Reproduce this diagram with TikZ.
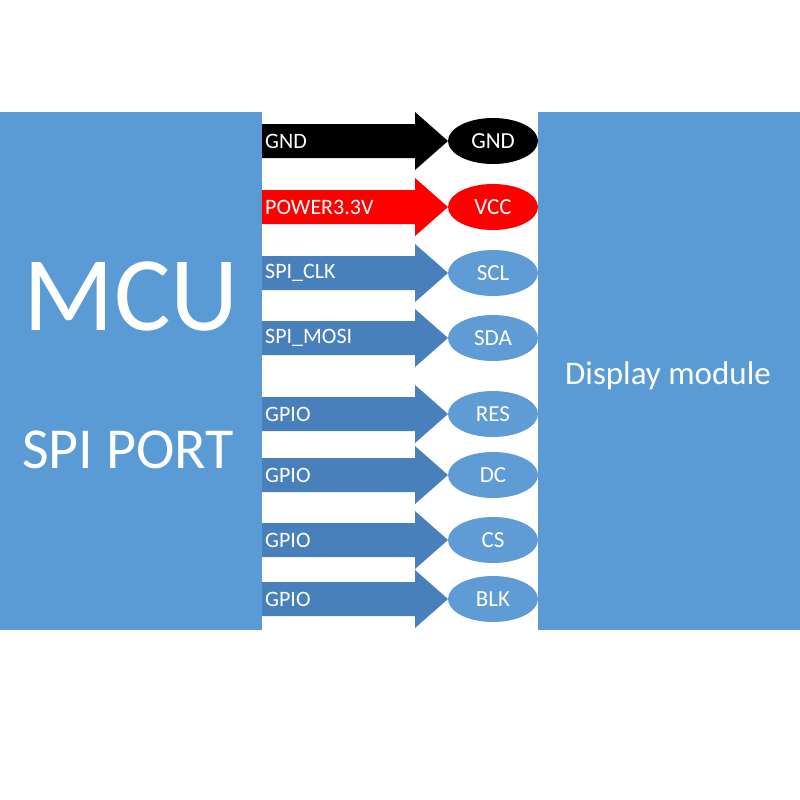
\documentclass[tikz,border=0pt]{standalone}
\usepackage{fontspec}
\setmainfont{Carlito}
\usetikzlibrary{shapes.geometric}
\definecolor{pblue}{RGB}{91,155,213}
\definecolor{ablue}{RGB}{72,128,188}
\definecolor{eblue}{RGB}{95,155,212}
\definecolor{pred}{RGB}{255,0,0}
\tikzset{
  lab/.style={anchor=west, text=white, font=\fontsize{22}{22}\selectfont, inner sep=0pt},
  pin/.style={ellipse, fill=#1, minimum width=90pt, minimum height=46pt, text=white, font=\fontsize{23}{23}\selectfont, inner sep=0pt},
}
\begin{document}
\begin{tikzpicture}[x=1pt,y=-1pt]
\useasboundingbox (0,0) rectangle (800,800);
\fill[white] (0,0) rectangle (800,800);
\fill[pblue] (0,112) rectangle (262,630);
\fill[pblue] (538,112) rectangle (800,630);
\node[text=white, font=\fontsize{106}{106}\selectfont] (mcu) at (131,296) {MCU};
\node[text=white, font=\fontsize{58}{58}\selectfont] (spi) at (128,450) {SPI PORT};
\node[text=white, font=\fontsize{33}{33}\selectfont] (disp) at (668,376) {Display module};
\foreach \n/\y/\c/\t/\p/\pc in {g/141/black/GND/GND/black, v/207/pred/POWER3.3V/VCC/pred, s1/273/ablue/SPI\_CLK/SCL/eblue, s2/338/ablue/SPI\_MOSI/SDA/eblue, r/414/ablue/GPIO/RES/eblue, d/475/ablue/GPIO/DC/eblue, c/540/ablue/GPIO/CS/eblue, b/599/ablue/GPIO/BLK/eblue}{
  \fill[\c] (262,\y-17) -- (415,\y-17) -- (415,\y-29) -- (448,\y) -- (415,\y+29) -- (415,\y+17) -- (262,\y+17) -- cycle;
  \node[lab] (l\n) at (265,\y) {\t};
  \node[pin=\pc] (p\n) at (493,\y) {\p};
}
\end{tikzpicture}
\end{document}
